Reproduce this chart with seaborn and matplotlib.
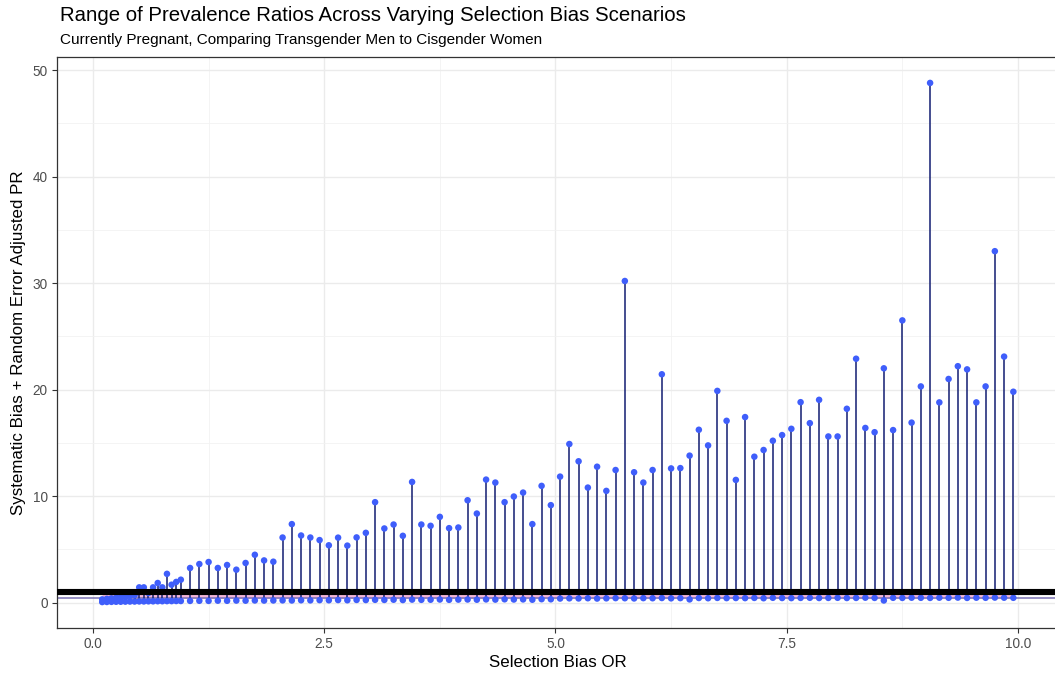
import numpy as np
import pandas as pd
import matplotlib
matplotlib.use("Agg")
import matplotlib.pyplot as plt
import seaborn as sns
from matplotlib.ticker import MultipleLocator, FormatStrFormatter

# ---- data ----
or_values = [0.10, 0.15, 0.20, 0.25, 0.30, 0.35, 0.40, 0.45, 0.50, 0.55,
             0.60, 0.65, 0.70, 0.75, 0.80, 0.85, 0.90, 0.95,
             1.05, 1.15, 1.25, 1.35, 1.45, 1.55, 1.65, 1.75, 1.85, 1.95,
             2.05, 2.15, 2.25, 2.35, 2.45, 2.55, 2.65, 2.75, 2.85, 2.95,
             3.05, 3.15, 3.25, 3.35, 3.45, 3.55, 3.65, 3.75, 3.85, 3.95,
             4.05, 4.15, 4.25, 4.35, 4.45, 4.55, 4.65, 4.75, 4.85, 4.95,
             5.05, 5.15, 5.25, 5.35, 5.45, 5.55, 5.65, 5.75, 5.85, 5.95,
             6.05, 6.15, 6.25, 6.35, 6.45, 6.55, 6.65, 6.75, 6.85, 6.95,
             7.05, 7.15, 7.25, 7.35, 7.45, 7.55, 7.65, 7.75, 7.85, 7.95,
             8.05, 8.15, 8.25, 8.35, 8.45, 8.55, 8.65, 8.75, 8.85, 8.95,
             9.05, 9.15, 9.25, 9.35, 9.45, 9.55, 9.65, 9.75, 9.85, 9.95]

pr_high = [0.30, 0.35, 0.40, 0.45, 0.50, 0.55, 0.62, 0.70, 1.43, 1.43,
           0.90, 1.43, 1.84, 1.43, 2.70, 1.68, 1.94, 2.15,
           3.25, 3.62, 3.81, 3.25, 3.53, 3.09, 3.72, 4.49, 3.96, 3.84,
           6.11, 7.37, 6.30, 6.11, 5.87, 5.38, 6.10, 5.35, 6.12, 6.55,
           9.43, 6.96, 7.33, 6.27, 11.33, 7.33, 7.21, 8.05, 6.99, 7.05,
           9.61, 8.36, 11.55, 11.27, 9.43, 9.96, 10.33, 7.37, 10.96, 9.15,
           11.83, 14.89, 13.27, 10.80, 12.76, 10.49, 12.45, 30.20, 12.24, 11.27,
           12.45, 21.44, 12.60, 12.63, 13.80, 16.23, 14.76, 19.88, 17.07, 11.52,
           17.42, 13.70, 14.33, 15.20, 15.73, 16.32, 18.82, 16.85, 19.04, 15.60,
           15.60, 18.20, 22.90, 16.40, 16.00, 22.00, 16.20, 26.50, 16.90, 20.30,
           48.80, 18.80, 21.00, 22.20, 21.90, 18.80, 20.30, 33.00, 23.10, 19.80]

pr_low = [0.05, 0.06, 0.07, 0.08, 0.08, 0.09, 0.10, 0.10, 0.11, 0.11,
          0.12, 0.12, 0.13, 0.13, 0.14, 0.14, 0.15, 0.15,
          0.16, 0.17, 0.16, 0.18, 0.17, 0.19, 0.18, 0.20, 0.19, 0.20,
          0.21, 0.20, 0.22, 0.21, 0.23, 0.22, 0.24, 0.22, 0.25, 0.24,
          0.26, 0.25, 0.27, 0.24, 0.28, 0.26, 0.27, 0.29, 0.26, 0.28,
          0.29, 0.27, 0.30, 0.28, 0.31, 0.29, 0.30, 0.27, 0.32, 0.31,
          0.38, 0.40, 0.39, 0.41, 0.38, 0.40, 0.42, 0.41, 0.39, 0.42,
          0.41, 0.43, 0.40, 0.42, 0.30, 0.43, 0.41, 0.44, 0.42, 0.43,
          0.42, 0.44, 0.41, 0.45, 0.43, 0.42, 0.44, 0.45, 0.43, 0.44,
          0.45, 0.43, 0.44, 0.46, 0.44, 0.20, 0.45, 0.44, 0.46, 0.45,
          0.44, 0.46, 0.45, 0.47, 0.44, 0.46, 0.45, 0.47, 0.46, 0.45]

null_pr = 1.0
observed_pr = 0.45
band_pr = 0.58

x_ticks = [0.0, 2.5, 5.0, 7.5, 10.0]
y_ticks = [0, 10, 20, 30, 40, 50]

title = "Range of Prevalence Ratios Across Varying Selection Bias Scenarios"
subtitle = "Currently Pregnant, Comparing Transgender Men to Cisgender Women"
xlabel = "Selection Bias OR"
ylabel = "Systematic Bias + Random Error Adjusted PR"

df = pd.DataFrame({"or": or_values, "low": pr_low, "high": pr_high})

# ---- style ----
sns.set_theme(style="white")
plt.rcParams["font.family"] = ["Liberation Sans", "DejaVu Sans"]

fig = plt.figure(figsize=(10.55, 6.75), dpi=100)
ax = fig.add_axes([0.0537, 0.0696, 0.950, 0.846])

ax.set_facecolor("white")
ax.grid(which="major", color="#ebebeb", lw=1.0, zorder=0)
ax.grid(which="minor", color="#f2f2f2", lw=0.6, zorder=0)
ax.set_axisbelow(True)

# pink band and observed line
ax.hlines(band_pr, df["or"].min(), df["or"].max(), color="#f3a9d2", lw=3.5,
          alpha=0.85, zorder=1)
ax.axhline(observed_pr, color="#7a72b4", lw=1.1, zorder=1.5)

# stems
ax.vlines(df["or"], df["low"], df["high"], color="#1b2677", alpha=0.82,
          lw=1.4, zorder=2)

# points
sns.scatterplot(data=df, x="or", y="high", ax=ax, color="#3f5efb", s=22,
                edgecolor="none", linewidth=0, zorder=3)
sns.scatterplot(data=df, x="or", y="low", ax=ax, color="#3f5efb", s=22,
                edgecolor="none", linewidth=0, zorder=3)

# null line
ax.axhline(null_pr, color="black", lw=4.4, zorder=4)

xr = df["or"].max() - df["or"].min()
ymin = min(pr_low)
ymax = max(pr_high)
yr = ymax - ymin
ax.set_xlim(df["or"].min() - 0.05 * xr, df["or"].max() + 0.05 * xr)
ax.set_ylim(ymin - 0.05 * yr, ymax + 0.05 * yr)

ax.set_xticks(x_ticks)
ax.set_yticks(y_ticks)
ax.xaxis.set_major_formatter(FormatStrFormatter("%.1f"))
ax.xaxis.set_minor_locator(MultipleLocator(1.25))
ax.yaxis.set_minor_locator(MultipleLocator(5))

for s in ax.spines.values():
    s.set_color("#333333")
    s.set_linewidth(0.9)
    s.set_visible(True)

ax.tick_params(axis="both", which="major", length=3.5, width=0.8,
               color="#333333", labelsize=9.8, labelcolor="#4d4d4d",
               direction="out", bottom=True, left=True, pad=3)
ax.tick_params(which="minor", length=0)

ax.set_xlabel(xlabel, fontsize=12.2, color="black", labelpad=3)
ax.set_ylabel(ylabel, fontsize=12.2, color="black", labelpad=5)

fig.text(0.057, 0.991, title, fontsize=14.7, color="black", ha="left", va="top")
fig.text(0.057, 0.951, subtitle, fontsize=11, color="black", ha="left", va="top")

fig.savefig("out.png", dpi=100)
